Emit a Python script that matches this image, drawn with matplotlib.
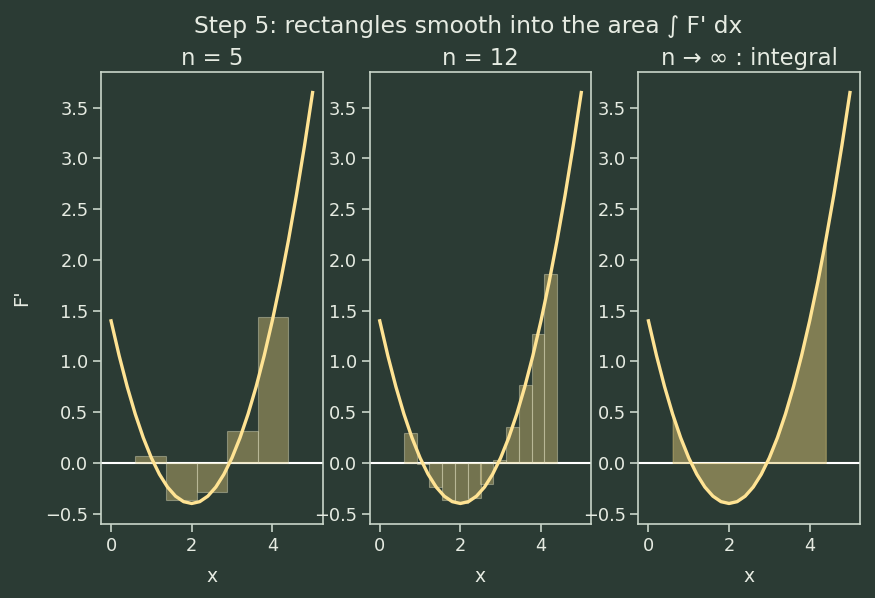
import numpy as np
import matplotlib.pyplot as plt

# curve F'(x)
xs = [0.0, 0.2, 0.4, 0.6, 0.8, 1.0, 1.2, 1.4, 1.6, 1.8, 2.0, 2.2, 2.4,
      2.6, 2.8, 3.0, 3.2, 3.4, 3.6, 3.8, 4.0, 4.2, 4.4, 4.6, 4.8, 5.0]
fp = [1.40, 1.058, 0.752, 0.482, 0.248, 0.05, -0.112, -0.238, -0.328, -0.382, -0.40, -0.382, -0.328,
      -0.238, -0.112, 0.05, 0.248, 0.482, 0.752, 1.058, 1.40, 1.778, 2.192, 2.642, 3.128, 3.65]

# rectangles, midpoints and heights
a, b = 0.6, 4.4
mid5 = [0.98, 1.74, 2.50, 3.26, 4.02]
h5 = [0.068, -0.370, -0.288, 0.314, 1.436]
mid12 = [0.758, 1.075, 1.392, 1.708, 2.025, 2.342, 2.658, 2.975, 3.292, 3.608, 3.925, 4.242]
h12 = [0.294, -0.015, -0.234, -0.362, -0.400, -0.347, -0.205, 0.028, 0.351, 0.764, 1.268, 1.861]

titles = ["n = 5", "n = 12", "n → ∞ : integral"]

bg = "#2b3b34"
fg = "#e6ebe2"
spine = "#c9d5c9"
curve_c = "#ffe393"
rect_c = "#e0c878"

plt.rcParams['font.family'] = ['DejaVu Sans']
plt.rcParams['text.color'] = fg
plt.rcParams['axes.labelcolor'] = fg
plt.rcParams['xtick.color'] = spine
plt.rcParams['ytick.color'] = spine
plt.rcParams['xtick.labelcolor'] = fg
plt.rcParams['ytick.labelcolor'] = fg

fig, axes = plt.subplots(1, 3, figsize=(8.75, 5.98), dpi=100)
fig.patch.set_facecolor(bg)
fig.subplots_adjust(left=0.1154, right=0.9829, top=0.8796, bottom=0.1237, wspace=0.212)

xs = np.array(xs)
fp = np.array(fp)

for i, ax in enumerate(axes):
    ax.set_facecolor(bg)
    for s in ax.spines.values():
        s.set_color(spine)
        s.set_linewidth(1.2)
    ax.axhline(0, color="white", lw=1.5, zorder=1)
    if i == 0:
        ax.bar(mid5, h5, width=(b - a) / 5, color=rect_c, alpha=0.4,
               edgecolor="#e4e4c8", linewidth=0.8, zorder=2)
    elif i == 1:
        ax.bar(mid12, h12, width=(b - a) / 12, color=rect_c, alpha=0.4,
               edgecolor="#e4e4c8", linewidth=0.8, zorder=2)
    else:
        m = (xs >= a - 1e-9) & (xs <= b + 1e-9)
        ax.fill_between(xs[m], 0, fp[m], color=rect_c, alpha=0.47, lw=0.8, zorder=2)
    ax.plot(xs, fp, color=curve_c, lw=2.4, zorder=3)
    ax.set_title(titles[i], fontsize=16.4, color=fg, pad=5)
    ax.set_xlabel("x", fontsize=13.5, labelpad=9)
    ax.set_xticks([0, 2, 4])
    ax.set_yticks([-0.5, 0.0, 0.5, 1.0, 1.5, 2.0, 2.5, 3.0, 3.5])
    ax.tick_params(labelsize=12.8, width=1.2, length=5.5)

axes[0].set_ylabel("F'", fontsize=14, labelpad=10)
fig.suptitle("Step 5: rectangles smooth into the area ∫ F' dx", fontsize=16.8, x=0.535, y=0.975)

fig.savefig("out.png", facecolor=bg)
